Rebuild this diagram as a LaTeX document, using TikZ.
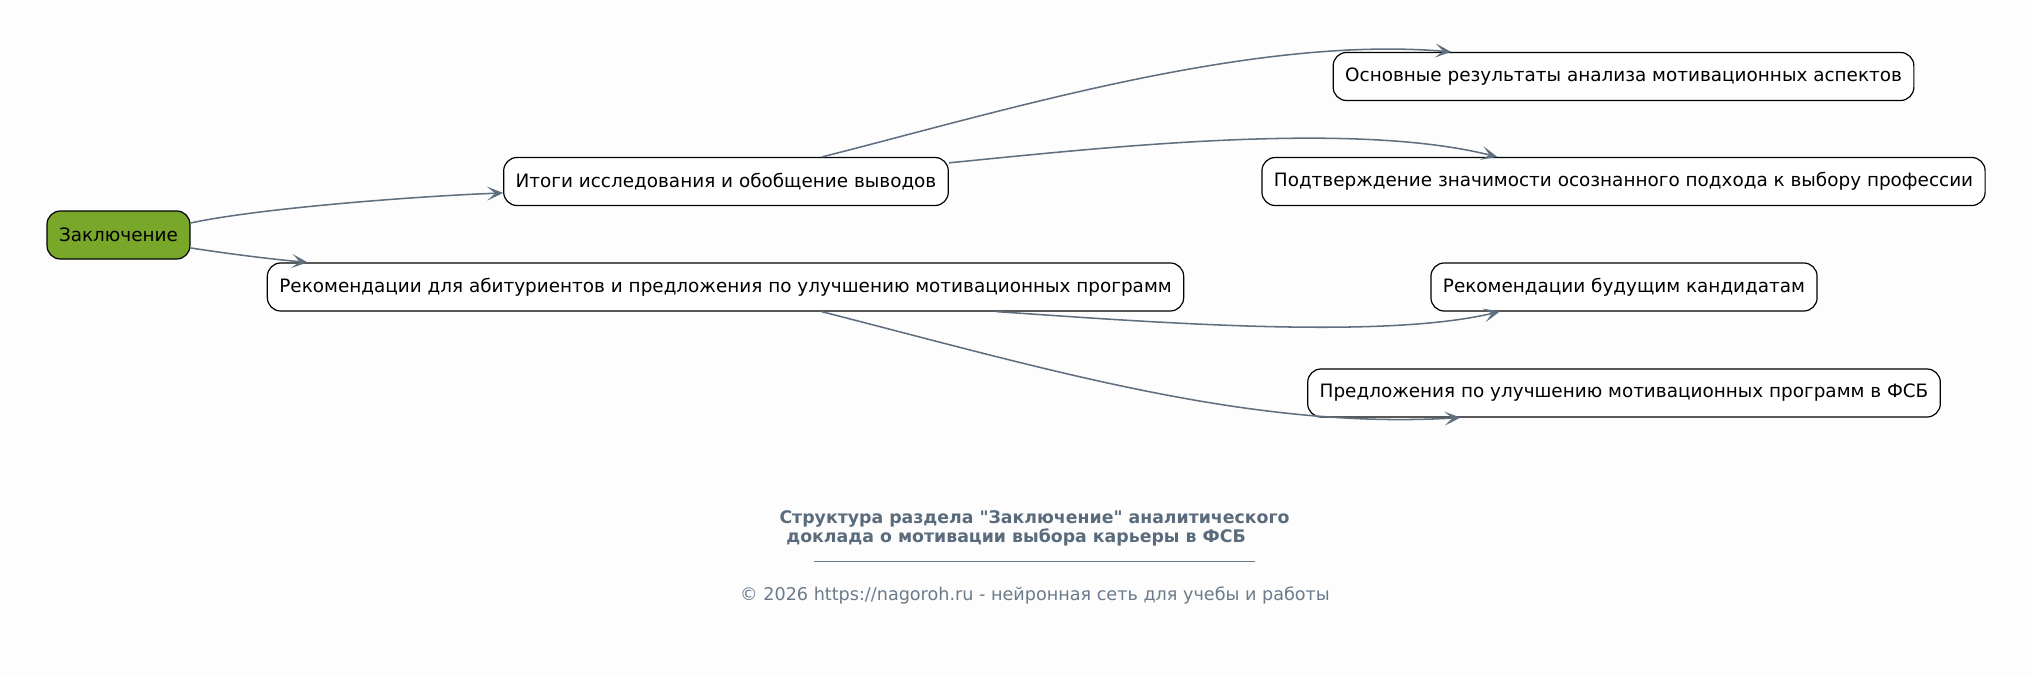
\documentclass[tikz,border=0pt]{standalone}
\usepackage{fontspec}
\setmainfont{DejaVu Sans}
\newfontfamily\plaindv{DejaVu Sans}
\usetikzlibrary{arrows.meta,calc}
\definecolor{edgec}{HTML}{5F6F7F}
\definecolor{titlec}{HTML}{5A6B7C}
\definecolor{copyc}{HTML}{6B7B8B}
\definecolor{greenf}{HTML}{78A72A}
\definecolor{bgc}{HTML}{FDFDFD}
\begin{document}
\begin{tikzpicture}[x=0.75pt,y=-0.75pt,
 box/.style={draw=black,line width=0.9pt,rounded corners=10pt,fill=white,minimum height=36pt,inner xsep=9pt,font=\fontsize{13.8}{16}\selectfont},
 conn/.style={draw=edgec,line width=1.15pt,-{Stealth[length=12pt,width=10.5pt,inset=6pt]}},
 ttl/.style={text=titlec,font=\plaindv\bfseries\fontsize{13}{14}\selectfont}]
\fill[bgc] (0,0) rectangle (2033,678);
\useasboundingbox (0,0) rectangle (2033,678);
\node[box,fill=greenf] (zak) at (118.5,235) {Заключение};
\node[box] (itogi) at (726,181.5) {Итоги исследования и обобщение выводов};
\node[box] (rekab) at (725.5,287) {Рекомендации для абитуриентов и предложения по улучшению мотивационных программ};
\node[box] (osn) at (1623.5,76.5) {Основные результаты анализа мотивационных аспектов};
\node[box] (podt) at (1623.5,181.5) {Подтверждение значимости осознанного подхода к выбору профессии};
\node[box] (rekbud) at (1624,287) {Рекомендации будущим кандидатам};
\node[box] (predl) at (1624,393) {Предложения по улучшению мотивационных программ в ФСБ};
\draw[conn] ([yshift=9pt]zak.east) .. controls (260,208) and (420,196) .. ([yshift=-8.6pt]itogi.west);
\draw[conn] ([yshift=-9.7pt]zak.east) .. controls (230,254) and (270,259) .. ([xshift=30.75pt]rekab.north west);
\draw[conn] ([xshift=72pt]itogi.north) .. controls (1000,112) and (1250,35) .. ([xshift=89pt]osn.north west);
\draw[conn] ([yshift=14pt]itogi.east) .. controls (1100,148) and (1350,120) .. ([xshift=177pt]podt.north west);
\draw[conn] ([xshift=203pt]rekab.south) .. controls (1150,322) and (1380,340) .. ([xshift=52pt]rekbud.south west);
\draw[conn] ([xshift=72pt]rekab.south) .. controls (1050,370) and (1250,430) .. ([xshift=115pt]predl.south west);
\node[ttl] (t1) at (1034.5,519) {Структура раздела "Заключение" аналитического};
\node[ttl] (t2) at (1016,537) {доклада о мотивации выбора карьеры в ФСБ};
\draw[copyc,line width=0.6pt] (814,561) -- (1255,561);
\node[text=copyc,font=\fontsize{13.2}{15}\selectfont] (copy) at (1035,595) {© 2026 https://nagoroh.ru - нейронная сеть для учебы и работы};
\end{tikzpicture}
\end{document}
